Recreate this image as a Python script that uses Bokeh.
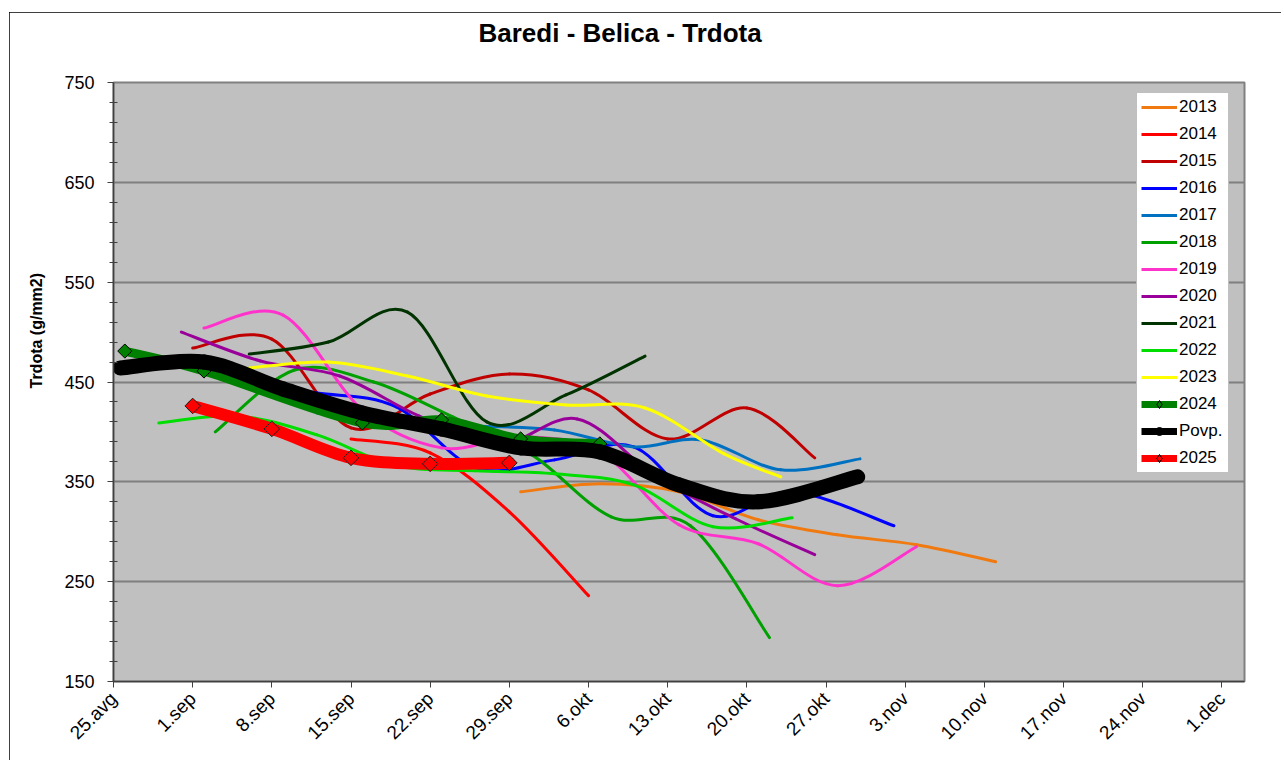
import numpy as np
from bokeh.plotting import figure
from bokeh.models import FixedTicker, Legend, LegendItem, Range1d, LinearAxis, Title
from bokeh.embed import file_html
from bokeh.resources import INLINE

FONT = "Liberation Sans"

# ---- axes ----
tick_days = [0, 7, 14, 21, 28, 35, 42, 49, 56, 63, 70, 77, 84, 91, 98]
tick_labels = ["25.avg", "1.sep", "8.sep", "15.sep", "22.sep", "29.sep", "6.okt",
               "13.okt", "20.okt", "27.okt", "3.nov", "10.nov", "17.nov", "24.nov", "1.dec"]
y_major = [150, 250, 350, 450, 550, 650, 750]
y_minor = [v for v in range(150, 751, 20) if v not in y_major]
y_grid = [250, 350, 450, 550, 650]

TITLE = "Baredi - Belica - Trdota"
Y_TITLE = "Trdota (g/mm2)"

# ---- series (x: days after 25 Aug, y: Trdota g/mm2) ----
d2013 = [36, 43, 50, 57, 64, 71, 78]
v2013 = [340, 348, 340, 312, 297, 287, 270]
d2014 = [21, 28, 35, 42]
v2014 = [393, 379, 320, 236]
d2015 = [7, 14, 21, 28, 35, 42, 49, 56, 62]
v2015 = [484, 493, 404, 438, 458, 442, 393, 424, 374]
d2016 = [11, 18, 25, 32, 39, 46, 53, 60, 69]
v2016 = [447, 439, 425, 364, 372, 385, 316, 340, 306]
d2017 = [18, 25, 32, 39, 46, 52, 59, 66]
v2017 = [419, 410, 406, 402, 385, 392, 362, 373]
d2018 = [9, 16, 23, 30, 37, 44, 51, 58]
v2018 = [400, 462, 450, 415, 377, 315, 306, 194]
d2019 = [8, 15, 22, 29, 36, 43, 50, 57, 64, 71]
v2019 = [504, 517, 422, 384, 395, 380, 307, 288, 246, 285]
d2020 = [6, 13, 20, 27, 34, 41, 48, 55, 62]
v2020 = [500, 471, 456, 416, 387, 413, 355, 313, 277]
d2021 = [12, 19, 26, 33, 40, 47]
v2021 = [478, 490, 520, 410, 437, 476]
d2022 = [4, 11, 18, 25, 32, 39, 46, 53, 60]
v2022 = [409, 416, 397, 366, 361, 358, 347, 305, 314]
d2023 = [12, 19, 26, 33, 40, 47, 54, 59]
v2023 = [464, 470, 456, 436, 427, 424, 378, 355]
d2024 = [1, 8, 22, 29, 36, 43]
v2024 = [481, 461, 409, 412, 393, 388]
dPovp = [0.6, 8, 15, 22, 29, 36, 43, 50, 57, 65.8]
vPovp = [464, 470, 443, 419, 403, 384, 380, 347, 330, 355]
d2025 = [7, 14, 21, 28, 35]
v2025 = [426, 403, 374, 368, 369]

thin_series = [
    ("2013", d2013, v2013, "#F07A10"),
    ("2014", d2014, v2014, "#FF0000"),
    ("2015", d2015, v2015, "#C00000"),
    ("2016", d2016, v2016, "#0000FF"),
    ("2017", d2017, v2017, "#0070C0"),
    ("2018", d2018, v2018, "#00A000"),
    ("2019", d2019, v2019, "#FF33CC"),
    ("2020", d2020, v2020, "#990099"),
    ("2021", d2021, v2021, "#003300"),
    ("2022", d2022, v2022, "#00DD00"),
    ("2023", d2023, v2023, "#FFFF00"),
]


def smooth(xs, ys):
    """Bezier control points for a smoothed line through the data points."""
    x = np.asarray(xs, float)
    y = np.asarray(ys, float)
    xp = np.concatenate([[x[0]], x, [x[-1]]])
    yp = np.concatenate([[y[0]], y, [y[-1]]])
    i = np.arange(len(x) - 1)
    return dict(
        x0=x[:-1], y0=y[:-1], x1=x[1:], y1=y[1:],
        cx0=xp[i + 1] + (xp[i + 2] - xp[i]) / 6.0,
        cy0=yp[i + 1] + (yp[i + 2] - yp[i]) / 6.0,
        cx1=xp[i + 2] - (xp[i + 3] - xp[i + 1]) / 6.0,
        cy1=yp[i + 2] - (yp[i + 3] - yp[i + 1]) / 6.0,
    )


p = figure(width=1272, height=748, x_range=Range1d(0, 100), y_range=Range1d(150, 750),
           output_backend="svg", toolbar_location=None,
           min_border_left=104, min_border_right=37, min_border_top=70, min_border_bottom=79)
p.margin = (12, 0, 0, 9)
p.styles = {"outline": "1px solid #000000", "outline-offset": "-1px"}
p.background_fill_color = "#C0C0C0"
p.border_fill_color = "#FFFFFF"
p.outline_line_color = "#808080"
p.outline_line_width = 2

# x axis
p.xaxis.ticker = FixedTicker(ticks=tick_days)
p.xaxis.major_label_overrides = {d: lab for d, lab in zip(tick_days, tick_labels)}
p.xaxis.major_label_orientation = np.pi / 4
p.xaxis.major_tick_out = 6
p.xaxis.major_tick_in = 0
p.xaxis.major_label_standoff = 8
# y axis
p.yaxis.ticker = FixedTicker(ticks=y_major, minor_ticks=y_minor)
p.yaxis.major_tick_out = 6
p.yaxis.major_tick_in = 0
p.yaxis.minor_tick_out = 4
p.yaxis.minor_tick_in = 4
p.yaxis.major_label_standoff = 13
for ax in (p.xaxis, p.yaxis):
    ax.axis_line_color = "#404040"
    ax.axis_line_width = 1.5
    ax.major_tick_line_color = "#404040"
    ax.major_label_text_font = FONT
    ax.major_label_text_color = "#000000"
p.yaxis.minor_tick_line_color = "#404040"
p.xaxis.minor_tick_line_color = None
p.yaxis.major_label_text_font_size = "18px"
p.xaxis.major_label_text_font_size = "19px"

# y-axis title as a left-side Title, positioned along the axis with an offset
p.add_layout(Title(text=Y_TITLE, align="left", offset=293, standoff=33,
                   vertical_align="bottom", text_font=FONT, text_font_size="16px",
                   text_font_style="bold", text_color="#000000"), "left")

# chart title: a tick-less spacer axis (blank label + standoff) lifts it,
# then a left-aligned Title with an offset
spacer = LinearAxis(ticker=FixedTicker(ticks=[]), axis_line_color=None,
                    major_tick_line_color=None, minor_tick_line_color=None,
                    major_tick_out=0, major_tick_in=0, minor_tick_out=0,
                    major_label_standoff=0, axis_label="\u00a0",
                    axis_label_text_font_size="1px", axis_label_standoff=31)
p.add_layout(spacer, "above")
p.add_layout(Title(text=TITLE, align="left", offset=365, standoff=0,
                   text_font=FONT, text_font_size="26px", text_font_style="bold",
                   text_color="#000000"), "above")

p.xgrid.visible = False
p.ygrid.ticker = FixedTicker(ticks=y_grid)
p.ygrid.grid_line_color = "#7F7F7F"
p.ygrid.grid_line_width = 2

items = []
for name, xs, ys, col in thin_series:
    p.bezier(**smooth(xs, ys), line_color=col, line_width=3, line_cap="round")
    lg = p.line(xs, ys, line_color=col, line_width=3, visible=False)
    items.append(LegendItem(label=name, renderers=[lg]))

# 2024
p.bezier(**smooth(d2024, v2024), line_color="#008000", line_width=9, line_cap="round")
p.scatter(d2024, v2024, marker="square", angle=np.pi / 4, size=10,
          fill_color="#008000", line_color="#000000", line_width=1)
lg1 = p.line(d2024, v2024, line_color="#008000", line_width=7, visible=False)
lg2 = p.scatter(d2024, v2024, marker="diamond", size=12,
                fill_color="#008000", line_color="#000000", line_width=1, visible=False)
items.append(LegendItem(label="2024", renderers=[lg1, lg2]))

# Povp.
p.bezier(**smooth(dPovp, vPovp), line_color="#000000", line_width=15, line_cap="round")
p.scatter(dPovp, vPovp, marker="circle", size=13, fill_color="#000000", line_color="#000000")
lg1 = p.line(dPovp, vPovp, line_color="#000000", line_width=7, visible=False)
lg2 = p.scatter(dPovp, vPovp, marker="circle", size=11, fill_color="#000000",
                line_color="#000000", visible=False)
items.append(LegendItem(label="Povp.", renderers=[lg1, lg2]))

# 2025
p.bezier(**smooth(d2025, v2025), line_color="#FF0000", line_width=12, line_cap="round")
p.scatter(d2025, v2025, marker="square", angle=np.pi / 4, size=11,
          fill_color="#FF0000", line_color="#202020", line_width=1)
lg1 = p.line(d2025, v2025, line_color="#FF0000", line_width=7, visible=False)
lg2 = p.scatter(d2025, v2025, marker="diamond", size=12,
                fill_color="#FF0000", line_color="#000000", line_width=1, visible=False)
items.append(LegendItem(label="2025", renderers=[lg1, lg2]))

legend = Legend(items=items, location=(1023, 208),
                label_text_font=FONT, label_text_font_size="17px", label_text_color="#000000",
                glyph_width=36, glyph_height=20, label_height=20, label_width=45,
                label_standoff=2, spacing=7, padding=4, margin=0,
                border_line_color="#808080", border_line_width=1,
                background_fill_color="#FFFFFF", background_fill_alpha=1.0)
p.add_layout(legend, "center")

open("out.html", "w").write(file_html(p, INLINE))
